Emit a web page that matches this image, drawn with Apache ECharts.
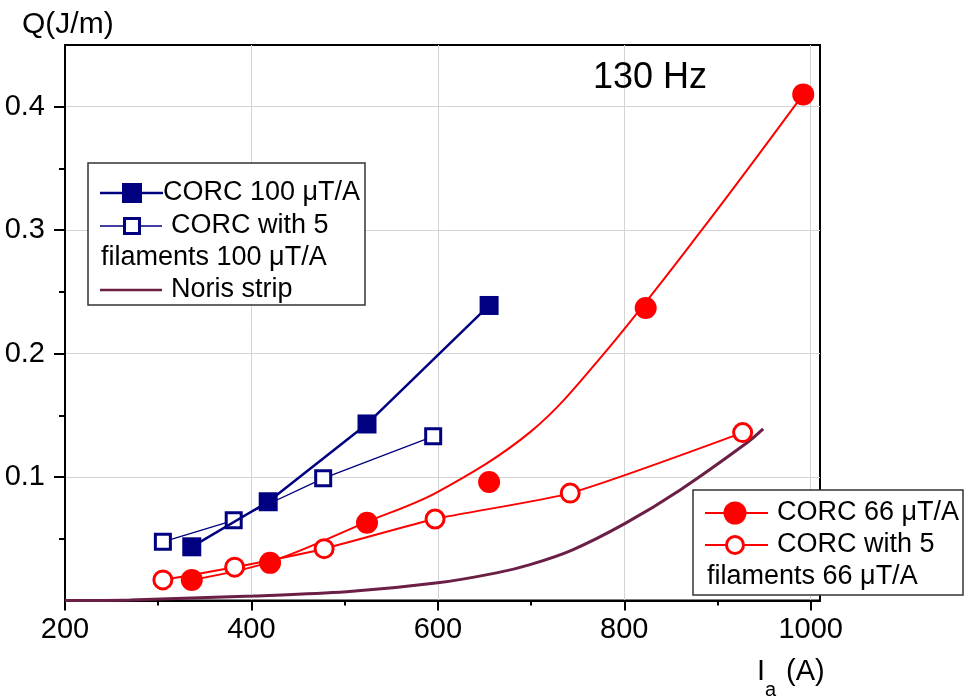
<!DOCTYPE html>
<html>
<head>
<meta charset="utf-8">
<script src="https://cdn.jsdelivr.net/npm/echarts@6/dist/echarts.min.js"></script>
<style>
  html, body { margin: 0; padding: 0; background: #fff; }
  #chart { width: 972px; height: 696px; }
</style>
</head>
<body>
<div id="chart"></div>
<script>
// Axis ticks
const xTickValues = [200, 400, 600, 800, 1000];
const xMinorTickValues = [300, 500, 700, 900];
const yTickValues = [0.1, 0.2, 0.3, 0.4];
const yMinorTickValues = [0.05, 0.15, 0.25, 0.35];

// CORC 100 uT/A
const corc100I = [336, 418, 524, 655];
const corc100Q = [0.0435, 0.080, 0.143, 0.239];

// CORC with 5 filaments 100 uT/A
const corc5f100I = [305, 381, 477, 595];
const corc5f100Q = [0.0475, 0.065, 0.099, 0.133];

// CORC 66 uT/A measured points
const corc66I = [336, 420, 524, 655, 823, 992];
const corc66Q = [0.0167, 0.0305, 0.063, 0.096, 0.237, 0.410];

// CORC 66 uT/A spline trend
const corc66CurveI = [336, 420, 524, 600, 700, 776, 883, 992];
const corc66CurveQ = [0.0167, 0.0313, 0.0637, 0.088, 0.137, 0.198, 0.300, 0.410];

// CORC with 5 filaments 66 uT/A
const corc5f66I = [305, 382, 478, 597, 742, 927];
const corc5f66Q = [0.0167, 0.027, 0.042, 0.066, 0.087, 0.136];

// Noris strip
const norisI = [200, 270, 402, 502, 600, 663, 699, 744, 801, 860, 932, 949];
const norisQ = [0, 0.0005, 0.0037, 0.007, 0.0143, 0.0224, 0.0291, 0.0409, 0.0625, 0.0896, 0.128, 0.139];

const zip = (xs, ys) => xs.map((x, i) => [x, ys[i]]);

const FONT = '"Liberation Sans", Arial, sans-serif';
const NAVY = '#000080';
const RED = '#ff0000';
const MAROON = '#6b1f45';

const chart = echarts.init(document.getElementById('chart'), null, { renderer: 'canvas' });

const legendFont = 27;
function txt(text, x, y, size, align) {
  return {
    type: 'text', z: 100,
    style: { text: text, x: x, y: y, fontSize: size, fontFamily: FONT, fill: '#000',
             textAlign: align || 'left', textVerticalAlign: 'middle' }
  };
}
function seg(x1, x2, y, color, w) {
  return { type: 'line', z: 100, shape: { x1: x1, y1: y, x2: x2, y2: y },
           style: { stroke: color, lineWidth: w } };
}

const graphics = [
  // upper-left legend box
  { type: 'rect', z: 99, shape: { x: 88, y: 163, width: 277, height: 142 },
    style: { fill: '#fff', stroke: '#333', lineWidth: 1.5 } },
  seg(100, 163, 193, NAVY, 2.5),
  { type: 'rect', z: 101, shape: { x: 122, y: 183, width: 20, height: 20 }, style: { fill: NAVY } },
  txt('CORC 100 \u03bcT/A', 163, 193, legendFont),
  seg(100, 162, 226, NAVY, 1.3),
  { type: 'rect', z: 101, shape: { x: 124.5, y: 218.5, width: 15, height: 15 },
    style: { fill: '#fff', stroke: NAVY, lineWidth: 3 } },
  txt('CORC with 5', 171, 226, legendFont),
  txt('filaments 100 \u03bcT/A', 101, 258, legendFont),
  seg(100, 162, 290, MAROON, 2.5),
  txt('Noris strip', 171, 290, legendFont),

  // lower-right legend box
  { type: 'rect', z: 99, shape: { x: 693, y: 490, width: 270, height: 105 },
    style: { fill: '#fff', stroke: '#333', lineWidth: 1.5 } },
  seg(705, 768, 513, RED, 2),
  { type: 'circle', z: 101, shape: { cx: 735, cy: 513, r: 11.5 }, style: { fill: RED } },
  txt('CORC 66 \u03bcT/A', 777, 513, legendFont),
  seg(705, 768, 545, RED, 2),
  { type: 'circle', z: 101, shape: { cx: 735, cy: 545, r: 8.5 },
    style: { fill: '#fff', stroke: RED, lineWidth: 3 } },
  txt('CORC with 5', 777, 545, legendFont),
  txt('filaments 66 \u03bcT/A', 707, 577, legendFont),

  // frequency annotation
  txt('130 Hz', 593, 78, 36),

  // axis titles
  txt('Q(J/m)', 22, 25, 30),
  txt('I', 757, 672, 29),
  txt('a', 765, 690, 20),
  txt('(A)', 786, 672, 29)
];

const minorAxisCommon = {
  axisLine: { show: false },
  axisLabel: { show: false },
  splitLine: { show: false }
};

chart.setOption({
  animation: false,
  backgroundColor: '#fff',
  grid: {
    left: 65, right: 152, top: 45, bottom: 95.5,
    show: true, borderColor: '#000', borderWidth: 2, backgroundColor: 'transparent'
  },
  xAxis: [
    {
      type: 'value', min: 200, max: 1010, interval: 200, position: 'bottom',
      axisLine: { lineStyle: { color: '#000', width: 2 } },
      axisTick: { show: true, length: 10, inside: false, customValues: xTickValues,
                  lineStyle: { color: '#000', width: 2 } },
      axisLabel: { customValues: xTickValues, fontSize: 29, fontFamily: FONT, color: '#000', margin: 15,
                   formatter: v => String(v) },
      splitLine: { show: true, lineStyle: { color: '#d4d4d4', width: 1 } }
    },
    Object.assign({
      type: 'value', min: 200, max: 1010, interval: 200, position: 'bottom',
      axisTick: { show: true, length: 5, customValues: xMinorTickValues,
                  lineStyle: { color: '#000', width: 2 } }
    }, minorAxisCommon)
  ],
  yAxis: [
    {
      type: 'value', min: 0, max: 0.45, interval: 0.1, position: 'left',
      axisLine: { lineStyle: { color: '#000', width: 2 } },
      axisTick: { show: true, length: 11, customValues: yTickValues,
                  lineStyle: { color: '#000', width: 2 } },
      axisLabel: { customValues: yTickValues, fontSize: 29, fontFamily: FONT, color: '#000', margin: 20,
                   formatter: v => String(v) },
      splitLine: { show: true, lineStyle: { color: '#d4d4d4', width: 1 } }
    },
    Object.assign({
      type: 'value', min: 0, max: 0.45, interval: 0.1, position: 'left',
      axisTick: { show: true, length: 6, customValues: yMinorTickValues,
                  lineStyle: { color: '#000', width: 2 } }
    }, minorAxisCommon)
  ],
  series: [
    {
      name: 'Noris strip', type: 'line', data: zip(norisI, norisQ),
      smooth: 0.35, showSymbol: false, symbol: 'none', z: 2,
      lineStyle: { color: MAROON, width: 3 }
    },
    {
      name: 'CORC 66 \u03bcT/A trend', type: 'line', data: zip(corc66CurveI, corc66CurveQ),
      smooth: 0.35, showSymbol: false, symbol: 'none', z: 3,
      lineStyle: { color: RED, width: 2 }
    },
    {
      name: 'CORC 66 \u03bcT/A', type: 'scatter', data: zip(corc66I, corc66Q),
      symbol: 'circle', symbolSize: 22, z: 5,
      itemStyle: { color: RED, opacity: 1 }
    },
    {
      name: 'CORC with 5 filaments 66 \u03bcT/A', type: 'line', data: zip(corc5f66I, corc5f66Q),
      smooth: 0.2, symbol: 'circle', symbolSize: 18, showSymbol: true, z: 4,
      lineStyle: { color: RED, width: 2 },
      itemStyle: { color: '#fff', borderColor: RED, borderWidth: 3 }
    },
    {
      name: 'CORC with 5 filaments 100 \u03bcT/A', type: 'line', data: zip(corc5f100I, corc5f100Q),
      symbol: 'rect', symbolSize: 15, showSymbol: true, z: 4,
      lineStyle: { color: NAVY, width: 1.3 },
      itemStyle: { color: '#fff', borderColor: NAVY, borderWidth: 3 }
    },
    {
      name: 'CORC 100 \u03bcT/A', type: 'line', data: zip(corc100I, corc100Q),
      symbol: 'rect', symbolSize: 19, showSymbol: true, z: 5,
      lineStyle: { color: NAVY, width: 2.5 },
      itemStyle: { color: NAVY }
    }
  ],
  graphic: graphics
});
</script>
</body>
</html>
